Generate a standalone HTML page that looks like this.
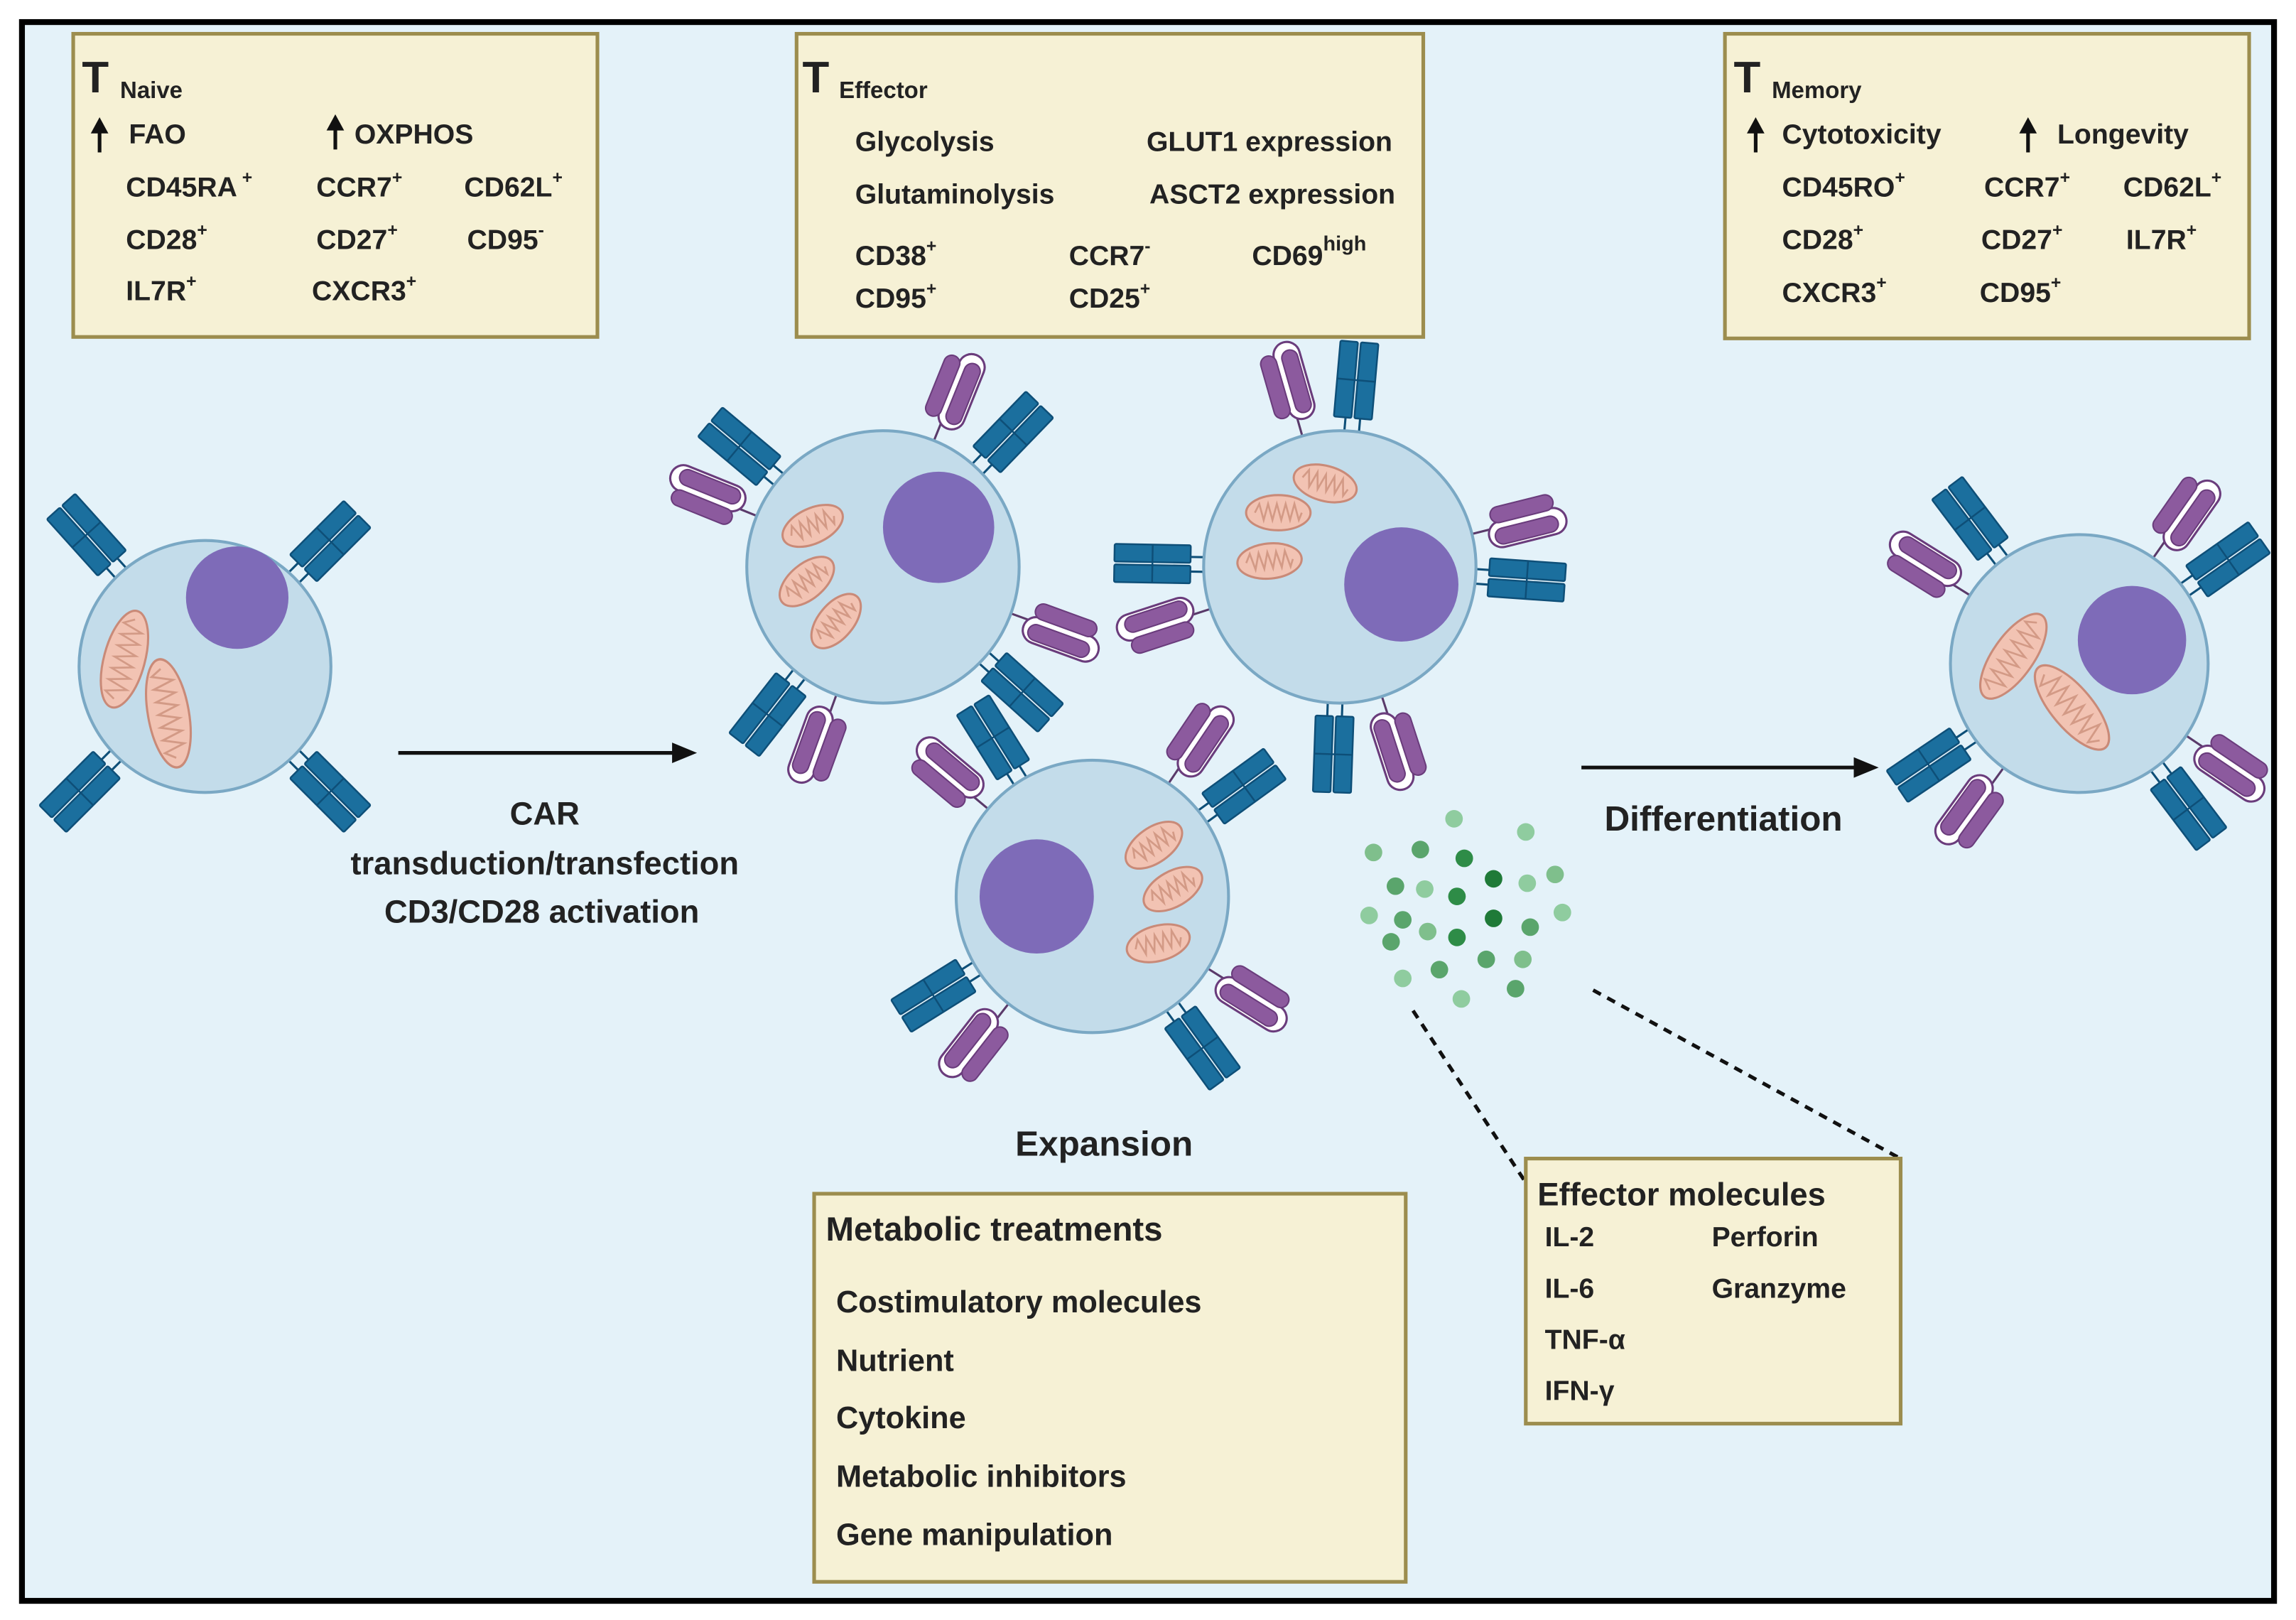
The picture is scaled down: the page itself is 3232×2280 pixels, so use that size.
<!DOCTYPE html>
<html><head><meta charset="utf-8"><style>
html,body{margin:0;padding:0;background:#fff}
svg{display:block}
text{font-family:"Liberation Sans",sans-serif;font-weight:bold;fill:#222}
.b{font-size:19px}
.t{font-size:30px}
.s{font-size:16px}
.sup{font-size:12px}
</style></head><body>
<svg width="3232" height="2280" viewBox="0 0 1568 1106" xmlns="http://www.w3.org/2000/svg">
<defs>
<g id="tcr">
<line x1="-5" y1="0" x2="-5" y2="-10" stroke="#0e4f78" stroke-width="1.5"/>
<line x1="5" y1="0" x2="5" y2="-10" stroke="#0e4f78" stroke-width="1.5"/>
<rect x="-13" y="-62" width="12" height="52" rx="1" fill="#1b6f9e" stroke="#0e4f78" stroke-width="1.2"/>
<rect x="1" y="-62" width="12" height="52" rx="1" fill="#1b6f9e" stroke="#0e4f78" stroke-width="1.2"/>
<line x1="-13" y1="-36" x2="13" y2="-36" stroke="#0e4f78" stroke-width="1.2"/>
</g>
<g id="pur">
<line x1="0" y1="0" x2="0" y2="-16" stroke="#5a3a6a" stroke-width="1.5"/>
<rect x="-4" y="-66" width="18" height="54" rx="9" fill="#fff" stroke="#6a3c7c" stroke-width="1.5"/>
<rect x="-14" y="-60" width="11" height="44" rx="5.5" fill="#8c5a9e" stroke="#6a3c7c" stroke-width="1"/>
<rect x="1" y="-60" width="11" height="44" rx="5.5" fill="#8c5a9e" stroke="#6a3c7c" stroke-width="1"/>
</g>
<g id="mito">
<ellipse cx="0" cy="0" rx="22" ry="12" fill="#f2c3b3" stroke="#c98a78" stroke-width="1.5"/>
<path d="M-16 0 L-13 -6 L-10 5 L-7 -6 L-4 5 L-1 -6 L2 5 L5 -6 L8 5 L11 -6 L14 5 L16 0" fill="none" stroke="#d39a86" stroke-width="1.3"/>
</g>
<g id="mitoL">
<ellipse cx="0" cy="0" rx="14" ry="34" fill="#f2c3b3" stroke="#c98a78" stroke-width="1.5"/>
<path d="M0 -28 L-7 -24 L7 -20 L-7 -16 L7 -12 L-7 -8 L7 -4 L-7 0 L7 4 L-7 8 L7 12 L-7 16 L7 20 L-7 24 L0 28" fill="none" stroke="#d39a86" stroke-width="1.3"/>
</g>
<g id="up">
<line x1="0" y1="0" x2="0" y2="-16" stroke="#111" stroke-width="2.5"/>
<polygon points="0,-24 -6,-13 6,-13" fill="#111"/>
</g>
</defs>
<rect x="0" y="0" width="1568" height="1106" fill="#fff"/>
<rect x="15" y="15" width="1538" height="1078" fill="#e4f2f9" stroke="#000" stroke-width="4"/>

<g transform="translate(140,455)">
<use href="#tcr" transform="rotate(-42) translate(0,-85)"/>
<use href="#tcr" transform="rotate(45) translate(0,-85)"/>
<use href="#tcr" transform="rotate(-135) translate(0,-85)"/>
<use href="#tcr" transform="rotate(135) translate(0,-85)"/>
<circle r="86" fill="#c3dcea" stroke="#7aa8c4" stroke-width="2"/>
<circle cx="22" cy="-47" r="35" fill="#7e6bb8"/>
<use href="#mitoL" transform="translate(-55,-5) rotate(15)"/>
<use href="#mitoL" transform="translate(-25,32) rotate(-10) scale(1,1.1)"/>
</g>

<g transform="translate(603,387)">
<use href="#tcr" transform="rotate(-50) translate(0,-92)"/>
<use href="#pur" transform="rotate(-68) translate(0,-92)"/>
<use href="#pur" transform="rotate(22) translate(0,-92)"/>
<use href="#tcr" transform="rotate(44) translate(0,-92)"/>
<use href="#pur" transform="rotate(110) translate(0,-92)"/>
<use href="#tcr" transform="rotate(132) translate(0,-92)"/>
<use href="#pur" transform="rotate(200) translate(0,-92)"/>
<use href="#tcr" transform="rotate(-142) translate(0,-92)"/>
<circle r="93" fill="#c3dcea" stroke="#7aa8c4" stroke-width="2"/>
<circle cx="38" cy="-27" r="38" fill="#7e6bb8"/>
<use href="#mito" transform="translate(-48,-28) rotate(-25)"/>
<use href="#mito" transform="translate(-52,10) rotate(-40)"/>
<use href="#mito" transform="translate(-32,37) rotate(-50)"/>
</g>

<g transform="translate(915,387)">
<use href="#pur" transform="rotate(-16) translate(0,-92)"/>
<use href="#tcr" transform="rotate(5) translate(0,-92)"/>
<use href="#pur" transform="rotate(76) translate(0,-92)"/>
<use href="#tcr" transform="rotate(94) translate(0,-92)"/>
<use href="#tcr" transform="rotate(-89) translate(0,-92)"/>
<use href="#pur" transform="rotate(-108) translate(0,-92)"/>
<use href="#tcr" transform="rotate(182) translate(0,-92)"/>
<use href="#pur" transform="rotate(162) translate(0,-92)"/>
<circle r="93" fill="#c3dcea" stroke="#7aa8c4" stroke-width="2"/>
<circle cx="42" cy="12" r="39" fill="#7e6bb8"/>
<use href="#mito" transform="translate(-10,-57) rotate(15)"/>
<use href="#mito" transform="translate(-42,-37) rotate(0)"/>
<use href="#mito" transform="translate(-48,-4) rotate(-5)"/>
</g>

<g transform="translate(746,612)">
<use href="#pur" transform="rotate(-50) translate(0,-92)"/>
<use href="#tcr" transform="rotate(-32) translate(0,-92)"/>
<use href="#pur" transform="rotate(34) translate(0,-92)"/>
<use href="#tcr" transform="rotate(54) translate(0,-92)"/>
<use href="#pur" transform="rotate(122) translate(0,-92)"/>
<use href="#tcr" transform="rotate(144) translate(0,-92)"/>
<use href="#tcr" transform="rotate(-122) translate(0,-92)"/>
<use href="#pur" transform="rotate(-142) translate(0,-92)"/>
<circle r="93" fill="#c3dcea" stroke="#7aa8c4" stroke-width="2"/>
<circle cx="-38" cy="0" r="39" fill="#7e6bb8"/>
<use href="#mito" transform="translate(42,-35) rotate(-35)"/>
<use href="#mito" transform="translate(55,-5) rotate(-30)"/>
<use href="#mito" transform="translate(45,32) rotate(-15)"/>
</g>

<g transform="translate(1420,453)">
<use href="#tcr" transform="rotate(-37) translate(0,-88)"/>
<use href="#pur" transform="rotate(-58) translate(0,-88)"/>
<use href="#pur" transform="rotate(35) translate(0,-88)"/>
<use href="#tcr" transform="rotate(55) translate(0,-88)"/>
<use href="#tcr" transform="rotate(-124) translate(0,-88)"/>
<use href="#pur" transform="rotate(-144) translate(0,-88)"/>
<use href="#pur" transform="rotate(124) translate(0,-88)"/>
<use href="#tcr" transform="rotate(143) translate(0,-88)"/>
<circle r="88" fill="#c3dcea" stroke="#7aa8c4" stroke-width="2"/>
<circle cx="36" cy="-16" r="37" fill="#7e6bb8"/>
<use href="#mitoL" transform="translate(-45,-5) rotate(35)"/>
<use href="#mitoL" transform="translate(-5,30) rotate(-40) scale(1,1.05)"/>
</g>

<g>
<circle cx="993" cy="559" r="6" fill="#8fcc9f"/>
<circle cx="938" cy="582" r="6" fill="#7fbf8c"/>
<circle cx="970" cy="580" r="6" fill="#5aa56c"/>
<circle cx="1000" cy="586" r="6" fill="#2e8c47"/>
<circle cx="1042" cy="568" r="6" fill="#8fcc9f"/>
<circle cx="953" cy="605" r="6" fill="#5aa56c"/>
<circle cx="973" cy="607" r="6" fill="#8fcc9f"/>
<circle cx="995" cy="612" r="6" fill="#2e8c47"/>
<circle cx="1020" cy="600" r="6" fill="#1f7a38"/>
<circle cx="1043" cy="603" r="6" fill="#8fcc9f"/>
<circle cx="1062" cy="597" r="6" fill="#7fbf8c"/>
<circle cx="935" cy="625" r="6" fill="#8fcc9f"/>
<circle cx="958" cy="628" r="6" fill="#5aa56c"/>
<circle cx="995" cy="640" r="6" fill="#2e8c47"/>
<circle cx="1020" cy="627" r="6" fill="#1f7a38"/>
<circle cx="1045" cy="633" r="6" fill="#5aa56c"/>
<circle cx="1067" cy="623" r="6" fill="#8fcc9f"/>
<circle cx="950" cy="643" r="6" fill="#5aa56c"/>
<circle cx="975" cy="636" r="6" fill="#7fbf8c"/>
<circle cx="1040" cy="655" r="6" fill="#7fbf8c"/>
<circle cx="958" cy="668" r="6" fill="#8fcc9f"/>
<circle cx="983" cy="662" r="6" fill="#5aa56c"/>
<circle cx="1015" cy="655" r="6" fill="#5aa56c"/>
<circle cx="998" cy="682" r="6" fill="#8fcc9f"/>
<circle cx="1035" cy="675" r="6" fill="#5aa56c"/>
</g>

<line x1="965" y1="690" x2="1045" y2="812" stroke="#111" stroke-width="2.5" stroke-dasharray="6,5"/>
<line x1="1088" y1="676" x2="1296" y2="790" stroke="#111" stroke-width="2.5" stroke-dasharray="6,5"/>

<line x1="272" y1="514" x2="462" y2="514" stroke="#111" stroke-width="2.5"/>
<polygon points="476,514 459,507 459,521" fill="#111"/>
<line x1="1080" y1="524" x2="1268" y2="524" stroke="#111" stroke-width="2.5"/>
<polygon points="1283,524 1266,517 1266,531" fill="#111"/>

<text x="372" y="563" text-anchor="middle" style="font-size:22px">CAR</text>
<text x="372" y="597" text-anchor="middle" style="font-size:22px">transduction/transfection</text>
<text x="370" y="630" text-anchor="middle" style="font-size:22px">CD3/CD28 activation</text>
<text x="1177" y="567" text-anchor="middle" style="font-size:24px">Differentiation</text>
<text x="754" y="789" text-anchor="middle" style="font-size:24px">Expansion</text>

<rect x="50" y="23" width="358" height="207" fill="#f6f1d5" stroke="#9c8d4e" stroke-width="2.5"/>
<text x="56" y="63" class="t">T</text><text x="82" y="67" class="s">Naive</text>
<use href="#up" transform="translate(68,104)"/><text x="88" y="98" class="b">FAO</text>
<use href="#up" transform="translate(229,102)"/><text x="242" y="98" class="b">OXPHOS</text>
<text x="86" y="134" class="b">CD45RA<tspan class="sup" dy="-9"> +</tspan></text>
<text x="216" y="134" class="b">CCR7<tspan class="sup" dy="-9">+</tspan></text>
<text x="317" y="134" class="b">CD62L<tspan class="sup" dy="-9">+</tspan></text>
<text x="86" y="170" class="b">CD28<tspan class="sup" dy="-9">+</tspan></text>
<text x="216" y="170" class="b">CD27<tspan class="sup" dy="-9">+</tspan></text>
<text x="319" y="170" class="b">CD95<tspan class="sup" dy="-9">-</tspan></text>
<text x="86" y="205" class="b">IL7R<tspan class="sup" dy="-9">+</tspan></text>
<text x="213" y="205" class="b">CXCR3<tspan class="sup" dy="-9">+</tspan></text>

<rect x="544" y="23" width="428" height="207" fill="#f6f1d5" stroke="#9c8d4e" stroke-width="2.5"/>
<text x="548" y="63" class="t">T</text><text x="573" y="67" class="s">Effector</text>
<text x="584" y="103" class="b">Glycolysis</text>
<text x="783" y="103" class="b">GLUT1 expression</text>
<text x="584" y="139" class="b">Glutaminolysis</text>
<text x="785" y="139" class="b">ASCT2 expression</text>
<text x="584" y="181" class="b">CD38<tspan class="sup" dy="-9">+</tspan></text>
<text x="730" y="181" class="b">CCR7<tspan class="sup" dy="-9">-</tspan></text>
<text x="855" y="181" class="b">CD69<tspan style="font-size:14px" dy="-10">high</tspan></text>
<text x="584" y="210" class="b">CD95<tspan class="sup" dy="-9">+</tspan></text>
<text x="730" y="210" class="b">CD25<tspan class="sup" dy="-9">+</tspan></text>

<rect x="1178" y="23" width="358" height="208" fill="#f6f1d5" stroke="#9c8d4e" stroke-width="2.5"/>
<text x="1184" y="63" class="t">T</text><text x="1210" y="67" class="s">Memory</text>
<use href="#up" transform="translate(1199,104)"/><text x="1217" y="98" class="b">Cytotoxicity</text>
<use href="#up" transform="translate(1385,104)"/><text x="1405" y="98" class="b">Longevity</text>
<text x="1217" y="134" class="b">CD45RO<tspan class="sup" dy="-9">+</tspan></text>
<text x="1355" y="134" class="b">CCR7<tspan class="sup" dy="-9">+</tspan></text>
<text x="1450" y="134" class="b">CD62L<tspan class="sup" dy="-9">+</tspan></text>
<text x="1217" y="170" class="b">CD28<tspan class="sup" dy="-9">+</tspan></text>
<text x="1353" y="170" class="b">CD27<tspan class="sup" dy="-9">+</tspan></text>
<text x="1452" y="170" class="b">IL7R<tspan class="sup" dy="-9">+</tspan></text>
<text x="1217" y="206" class="b">CXCR3<tspan class="sup" dy="-9">+</tspan></text>
<text x="1352" y="206" class="b">CD95<tspan class="sup" dy="-9">+</tspan></text>

<rect x="556" y="815" width="404" height="265" fill="#f6f1d5" stroke="#9c8d4e" stroke-width="2.5"/>
<text x="564" y="847" style="font-size:23px">Metabolic treatments</text>
<text x="571" y="896" style="font-size:21px">Costimulatory molecules</text>
<text x="571" y="936" style="font-size:21px">Nutrient</text>
<text x="571" y="975" style="font-size:21px">Cytokine</text>
<text x="571" y="1015" style="font-size:21px">Metabolic inhibitors</text>
<text x="571" y="1055" style="font-size:21px">Gene manipulation</text>

<rect x="1042" y="791" width="256" height="181" fill="#f6f1d5" stroke="#9c8d4e" stroke-width="2.5"/>
<text x="1050" y="823" style="font-size:22px">Effector molecules</text>
<text x="1055" y="851" class="b">IL-2</text>
<text x="1169" y="851" class="b">Perforin</text>
<text x="1055" y="886" class="b">IL-6</text>
<text x="1169" y="886" class="b">Granzyme</text>
<text x="1055" y="921" class="b">TNF-α</text>
<text x="1055" y="956" class="b">IFN-γ</text>
</svg>
</body></html>
